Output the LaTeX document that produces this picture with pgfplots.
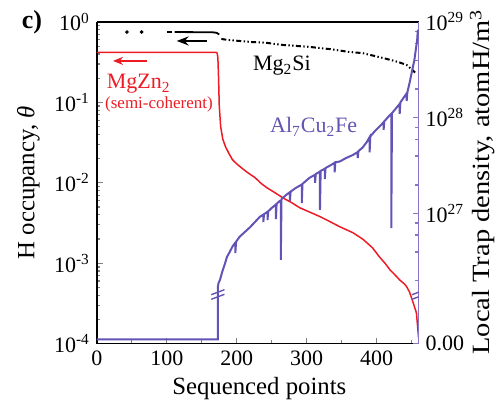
\documentclass[border=0pt]{standalone}
\usepackage{fontspec}
\setmainfont{Liberation Serif}
\usepackage{graphicx}
\usepackage{pgfplots}
\pgfplotsset{compat=1.18}
\usetikzlibrary{arrows.meta}
\definecolor{myred}{RGB}{237,28,36}
\definecolor{mypurple}{RGB}{100,82,180}
\definecolor{axpurple}{RGB}{135,115,200}
\begin{document}
\begin{tikzpicture}
\pgfplotsset{
  every axis/.append style={
    width=161pt, height=161pt, scale only axis,
    at={(0,0)}, anchor=south west,
    xmin=0, xmax=460,
    tick align=inside,
    major tick length=3pt, minor tick length=1.8pt,
    tick label style={font=\fontsize{11}{12}\selectfont},
    label style={font=\fontsize{12.4}{14}\selectfont},
    /pgf/number format/assume math mode=true,
    axis line style={line width=0.75pt},
    every tick/.append style={line width=0.6pt},
  }
}
\begin{axis}[
  axis x line*=bottom, axis y line*=left,
  ymode=log, ymin=1e-4, ymax=1,
  xtick={0,100,200,300,400}, minor xtick={50,150,250,350,450},
  xticklabels={0,100,200,300,400},
  ytick={1e-4,1e-3,1e-2,1e-1,1},
  yticklabels={10\textsuperscript{-4},10\textsuperscript{-3},10\textsuperscript{-2},10\textsuperscript{-1},10\textsuperscript{0}},
  xlabel={Sequenced points},
  ylabel={H occupancy, \textit{θ}},
  x label style={at={(axis description cs:0.505,-0.14)}, anchor=center},
  y label style={at={(axis description cs:-0.213,0.5)}, anchor=center},
]
% MgZn2 (red)
\addplot[myred, line width=0.75pt] coordinates {
(0,0.42) (170,0.42) (172,0.41) (173,0.36) (174,0.2) (175,0.09) (177,0.05) (180,0.035)
(184,0.028) (189,0.023) (194,0.0193) (200,0.0172) (209,0.0148) (215,0.0135) (220,0.0126)
(225,0.0118) (229,0.0110) (235,0.0098) (243,0.0087) (255,0.0075) (266,0.0065) (278,0.0057)
(290,0.0049) (305,0.0043) (319,0.0038) (333,0.0033) (347,0.00285) (366,0.0024) (380,0.0020)
(394,0.00156) (404,0.0012) (412,0.0010) (419,0.00083) (426,0.00072) (433,0.00062) (440,0.00055)
(443,0.00051) (447,0.00044) (451,0.00035) (454,0.00029) (457,0.00024) (458,0.00019) (459,0.00015) (460,0.000119)
};
% Mg2Si (black)
\addplot[black, only marks, mark=*, mark size=0.7pt] coordinates {(43,0.75) (64,0.75)};
\addplot[black, line width=0.9pt] coordinates {(100,0.75) (107,0.75)};
\addplot[black, line width=0.9pt] coordinates {(111,0.75) (165,0.745) (171,0.735) (175,0.70)};
\addplot[black, line width=1pt, dash pattern=on 2.5pt off 1.2pt on 0.7pt off 1.2pt on 0.7pt off 1.2pt] coordinates {
(178,0.615) (186,0.60) (219,0.565) (243,0.55) (266,0.518) (304,0.49) (333,0.46) (361,0.424)
(380,0.41) (409,0.357) (430,0.32) (443,0.292) (451,0.254) (455,0.235)
};
\draw[myred, line width=0.8pt, -{Stealth[length=5pt,width=4pt]}] (rel axis cs:0.155,0.879) -- (rel axis cs:0.05,0.879);
\draw[black, line width=0.8pt, -{Stealth[length=6pt,width=4.5pt]}] (rel axis cs:0.342,0.941) -- (rel axis cs:0.248,0.941);
\node[myred, font=\fontsize{11}{13}\selectfont] at (rel axis cs:0.13,0.807) {MgZn\textsubscript{2}};
\node[myred, font=\fontsize{8.5}{10}\selectfont] at (rel axis cs:0.193,0.745) {(semi-coherent)};
\node[black, font=\fontsize{11}{13}\selectfont] at (rel axis cs:0.575,0.863) {Mg\textsubscript{2}Si};
\node[mypurple, font=\fontsize{11}{13}\selectfont] at (rel axis cs:0.674,0.674) {Al\textsubscript{7}Cu\textsubscript{2}Fe};
\end{axis}
\begin{axis}[
  axis x line*=top, axis y line*=right,
  xtick=\empty,
  ymode=log, ymin=4.43e25, ymax=1e29,
  ytick={4.43e25,1e27,1e28,1e29},
  yticklabels={0.00,10\textsuperscript{27},10\textsuperscript{28},10\textsuperscript{29}},
  minor ytick={2e26,4e26,6e26,8e26,2e27,4e27,6e27,8e27,2e28,4e28,6e28,8e28},
  y axis line style={axpurple},
  ytick style={axpurple},
  ylabel={\scalebox{1.15}[1]{Local Trap density, atomH/m\textsuperscript{3}}},
  y label style={at={(axis description cs:1.199,0.503)}, anchor=center},
]
\addplot[mypurple, line width=1pt] coordinates {
(0,4.9e25) (173,4.9e25) (173,1.74e26) (174,1.9e26) (176,2.04e26) (179,2.45e26) (183,3.0e26) (186,3.55e26)
(190,4.0e26) (194,4.57e26) (198,5.0e26) (198,3.9e26) (199,5.1e26) (204,5.75e26) (212,6.5e26) (219,7.24e26)
(226,8.2e26) (233,9.3e26) (238,9.8e26) (238,8.2e26) (239,9.9e26) (244,1.05e27) (244,8.6e26) (245,1.06e27)
(250,1.15e27) (256,1.25e27) (256,8.8e26) (257,1.27e27) (261,1.35e27) (263,1.38e27) (263,3.3e26) (264,1.42e27)
(271,1.58e27) (276,1.68e27) (276,1.35e27) (277,1.7e27) (284,1.85e27) (292,2.0e27) (293,2.02e27) (293,1.29e27) (294,2.05e27)
(304,2.37e27) (312,2.55e27) (312,2.1e27) (313,2.6e27) (319,2.75e27) (319,1.1e27) (320,2.8e27) (326,2.95e27) (326,2.3e27) (327,3.0e27)
(334,3.2e27) (340,3.4e27) (340,2.7e27) (341,3.45e27) (347,3.5e27) (356,3.8e27) (366,4.1e27) (373,4.4e27) (373,3.8e27) (374,4.5e27) (380,4.9e27)
(386,5.6e27) (390,6.3e27) (390,4.37e27) (391,6.4e27) (397,7.2e27) (404,8.1e27) (410,9.0e27) (410,7.5e27) (411,9.2e27)
(419,1.07e28) (421,1.1e28) (421,7.1e26) (422,1.12e28) (429,1.29e28) (433,1.4e28) (433,1.1e28) (434,1.45e28)
(443,1.8e28) (443,1.5e28) (444,1.85e28) (447,2.29e28) (451,3.16e28) (454,4.0e28) (456,5.1e28) (458,6.5e28) (459,8.3e28)
};
% axis-break marks
\draw[mypurple, line width=0.7pt] ([shift={(-3.3pt,0pt)}]rel axis cs:0.376,0.152) -- ++(6.6pt,2.5pt);
\draw[mypurple, line width=0.7pt] ([shift={(-3.3pt,-2.3pt)}]rel axis cs:0.376,0.152) -- ++(6.6pt,2.5pt);
\draw[mypurple, line width=0.7pt] ([shift={(-3.3pt,0pt)}]rel axis cs:1,0.152) -- ++(6.6pt,2.5pt);
\draw[mypurple, line width=0.7pt] ([shift={(-3.3pt,-2.3pt)}]rel axis cs:1,0.152) -- ++(6.6pt,2.5pt);
\end{axis}
\node[font=\bfseries\fontsize{13}{15}\selectfont] at (-32.5pt,161pt) {c)};
\path[use as bounding box] (-48.5pt,-33.5pt) rectangle (202.5pt,172pt);
\end{tikzpicture}
\end{document}
